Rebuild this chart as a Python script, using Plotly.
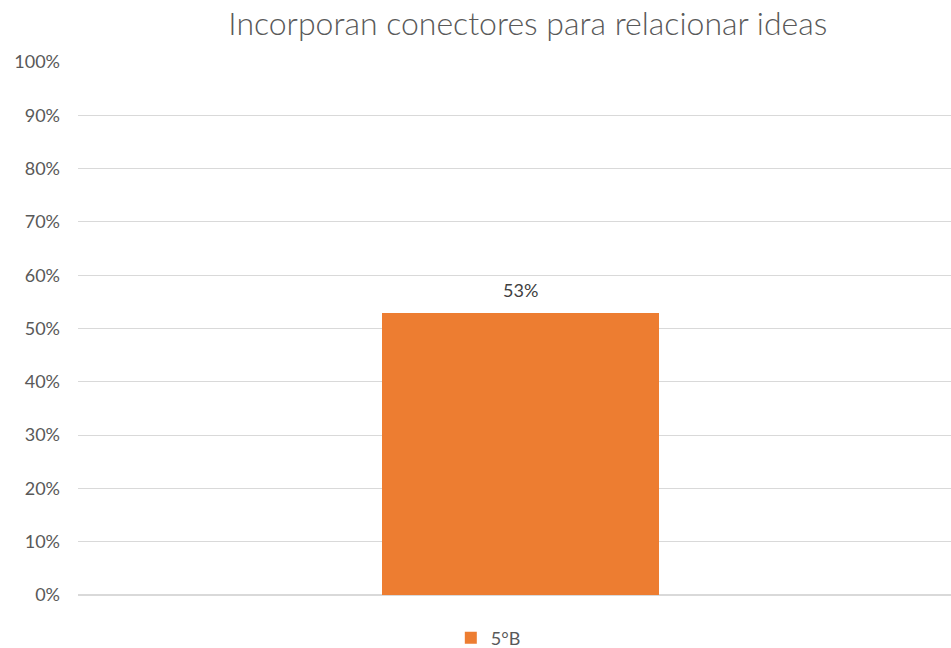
import plotly.graph_objects as go

categories = ["5°B"]
series_name = "5°B"
values = [0.53]
tick_vals = [0, 0.1, 0.2, 0.3, 0.4, 0.5, 0.6, 0.7, 0.8, 0.9, 1.0]
tick_text = ["0%", "10%", "20%", "30%", "40%", "50%", "60%", "70%", "80%", "90%", "100%"]
title = "Incorporan conectores para relacionar ideas"

FONT = "Lato, Carlito, sans-serif"

fig = go.Figure()
fig.add_trace(go.Bar(
    x=categories, y=values, name=series_name,
    marker=dict(color="#ED7D31", line=dict(width=0)),
    width=0.317,
    showlegend=True,
))

for c, v in zip(categories, values):
    fig.add_annotation(
        x=c, y=v, text=f"{round(v*100)}%", showarrow=False,
        yanchor="bottom", yshift=10,
        font=dict(family=FONT, size=18, color="#404040"),
    )

fig.update_layout(
    width=951, height=648,
    paper_bgcolor="white", plot_bgcolor="white",
    margin=dict(l=78, r=0, t=62, b=53, autoexpand=False),
    title=dict(text=title, x=0.555, xanchor="center", y=0.964, yanchor="middle",
               font=dict(family=FONT, size=32, color="#595959", weight=300)),
    font=dict(family=FONT, color="#595959"),
    xaxis=dict(showticklabels=False, showgrid=False, zeroline=False, showline=False,
               range=[-0.5069, 0.4931], ticks=""),
    yaxis=dict(range=[0, 1.0], tickvals=tick_vals, ticktext=tick_text,
               showgrid=True, gridcolor="#D9D9D9", gridwidth=1,
               zeroline=True, zerolinecolor="#D9D9D9", zerolinewidth=1.5,
               showline=False, ticks="", ticklabelstandoff=17, automargin=False,
               tickfont=dict(size=18, color="#595959")),
    legend=dict(orientation="h", x=0.470, xanchor="center", y=-0.081, yanchor="middle",
                font=dict(size=18, color="#595959"), itemwidth=30,
                bgcolor="rgba(0,0,0,0)"),
    bargap=0,
)

fig.write_html(
    "out.html",
    config={"displayModeBar": False},
    post_script="document.body.style.margin='0';document.body.style.overflow='hidden';",
)
